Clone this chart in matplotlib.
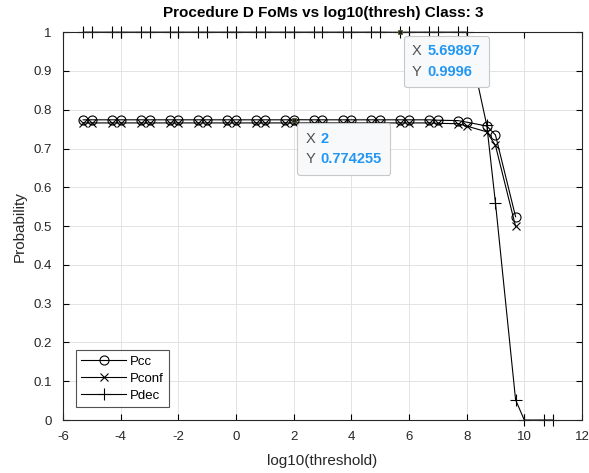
"""Procedure D FoMs vs log10(threshold), class 3 -- MATLAB-style line plot
with two data tips."""
import matplotlib

matplotlib.use("Agg")
import matplotlib.pyplot as plt
import numpy as np
from matplotlib.offsetbox import AnnotationBbox, HPacker, TextArea, VPacker

plt.rcParams["font.family"] = ["Liberation Sans", "DejaVu Sans"]
plt.rcParams["axes.unicode_minus"] = False  # MATLAB prints plain hyphens

# thresholds swept (5*10^k and 10^(k+1) pairs)
thresh = [5e-6, 1e-5, 5e-5, 1e-4, 5e-4, 1e-3, 5e-3, 1e-2, 5e-2, 1e-1,
          0.5, 1, 5, 10, 50, 100, 500, 1e3, 5e3, 1e4, 5e4, 1e5,
          5e5, 1e6, 5e6, 1e7, 5e7, 1e8, 5e8, 1e9, 5e9, 1e10, 5e10, 1e11]

nan = np.nan
pcc = [0.774, 0.774, 0.774, 0.774, 0.774, 0.774, 0.774, 0.774, 0.774, 0.774,
       0.774, 0.774, 0.774, 0.774, 0.774, 0.774255, 0.774, 0.774, 0.774, 0.774,
       0.774, 0.774, 0.774, 0.774, 0.774, 0.773, 0.772, 0.768, 0.758, 0.735,
       0.524, nan, nan, nan]
pconf = [0.766, 0.766, 0.766, 0.766, 0.766, 0.766, 0.766, 0.766, 0.766, 0.766,
         0.766, 0.766, 0.766, 0.766, 0.766, 0.766, 0.766, 0.766, 0.766, 0.766,
         0.766, 0.766, 0.766, 0.766, 0.766, 0.765, 0.764, 0.758, 0.743, 0.708,
         0.499, nan, nan, nan]
pdec = [1.0, 1.0, 1.0, 1.0, 1.0, 1.0, 1.0, 1.0, 1.0, 1.0,
        1.0, 1.0, 1.0, 1.0, 1.0, 1.0, 1.0, 1.0, 1.0, 1.0,
        1.0, 1.0, 0.9996, 1.0, 1.0, 1.0, 1.0, 1.0, 0.76, 0.56,
        0.052, 0.0, 0.0, 0.0]

# data tips: (index into thresh, y value, x text, y text)
tips = [(15, 0.774255, "2", "0.774255"),
        (22, 0.9996, "5.69897", "0.9996")]

x = np.log10(thresh)

fig = plt.figure(figsize=(5.89, 4.73), dpi=100)
ax = fig.add_axes([0.107, 0.112, 0.881, 0.820])

line_kw = dict(color="black", lw=0.8, clip_on=False)
ax.plot(x, pcc, marker="o", ms=6.5, mfc="none", mew=0.8, label="Pcc", **line_kw)
ax.plot(x, pconf, marker="x", ms=6, mew=0.8, label="Pconf", **line_kw)
ax.plot(x, pdec, marker="+", ms=8, mew=0.8, label="Pdec", **line_kw)

ax.set_xlim(-6, 12)
ax.set_ylim(0, 1)
ax.set_xticks(np.arange(-6, 13, 2))
ax.set_yticks(np.arange(0, 1.01, 0.1))
ax.set_yticklabels(["0", "0.1", "0.2", "0.3", "0.4", "0.5", "0.6", "0.7",
                    "0.8", "0.9", "1"])
ax.grid(True, color="#e3e3e3", lw=0.7)
ax.set_axisbelow(True)
ax.tick_params(direction="in", top=True, right=True, length=4, width=0.8,
               labelsize=9.5, labelcolor="#262626")
ax.tick_params(axis="x", pad=8)
ax.tick_params(axis="y", pad=8)
for s in ax.spines.values():
    s.set_linewidth(0.8)
    s.set_color("#262626")

# title placed by hand so it sits just above the top markers, as in MATLAB
fig.text(0.548, 0.972, "Procedure D FoMs vs log10(thresh) Class: 3",
         fontsize=11, fontweight="bold", ha="center", va="center")
ax.set_xlabel("log10(threshold)", fontsize=11, color="#262626", labelpad=8)
ax.set_ylabel("Probability", fontsize=11, color="#262626", labelpad=5)

leg = ax.legend(loc="lower left", fontsize=9.5, handlelength=3.4, numpoints=1,
                frameon=True, fancybox=False, edgecolor="#262626",
                borderaxespad=1.0, labelspacing=0.35, handletextpad=0.3,
                borderpad=0.4)
leg.get_frame().set_linewidth(0.8)

# MATLAB-like data tips
for i, yv, xs, ys in tips:
    xv = x[i]
    ax.plot([xv], [yv], marker="s", ms=3.5, color="#202020", mec="#5a5a30",
            mew=0.6, zorder=6, clip_on=False)
    rows = []
    for lab, val in (("X", xs), ("Y", ys)):
        rows.append(HPacker(children=[
            TextArea(lab, textprops=dict(color="#505050", fontsize=10.5)),
            TextArea(val, textprops=dict(color="#2196F3", fontsize=10.5,
                                         fontweight="bold")),
        ], sep=4, pad=0, align="baseline"))
    box = VPacker(children=rows, sep=5, pad=0, align="left")
    ab = AnnotationBbox(box, (xv, yv), xybox=(8.5, -8.5), xycoords="data",
                        boxcoords="offset points", box_alignment=(0, 1),
                        pad=0.75, frameon=True, zorder=7,
                        bboxprops=dict(boxstyle="round,pad=0.6,rounding_size=0.2",
                                       fc="#f8f9fb", ec="#c8c8c8", lw=0.8))
    ax.add_artist(ab)

fig.savefig("out.png", dpi=100)
